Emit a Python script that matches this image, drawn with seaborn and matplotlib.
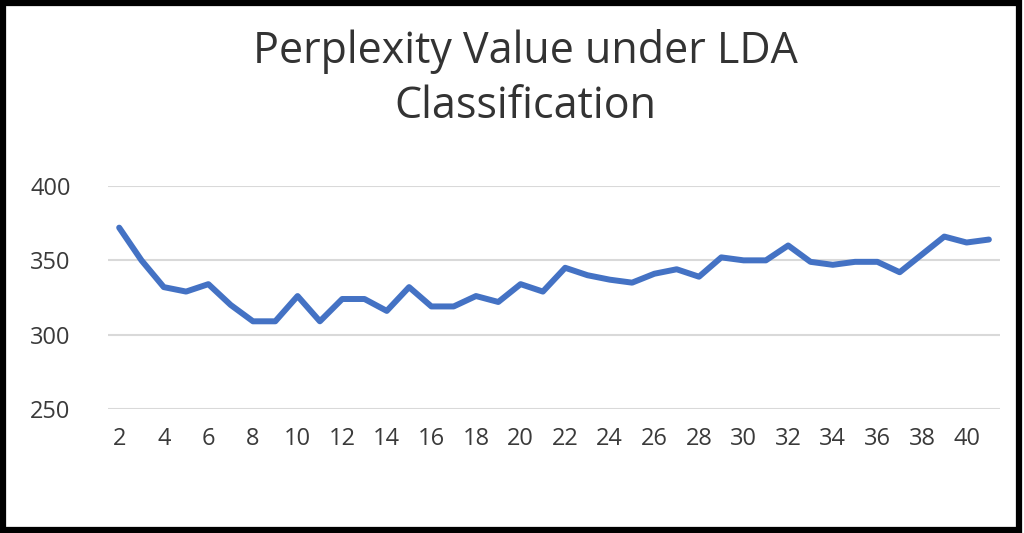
import matplotlib
matplotlib.use("Agg")
import matplotlib.pyplot as plt
import seaborn as sns
import pandas as pd
from matplotlib.patches import Rectangle

topics = list(range(2, 42))
perplexity = [372, 350, 332, 329, 334, 320, 309, 309, 326, 309,
              324, 324, 316, 332, 319, 319, 326, 322, 334, 329,
              345, 340, 337, 335, 341, 344, 339, 352, 350, 350,
              360, 349, 347, 349, 349, 342, 354, 366, 362, 364]
yticks = [250, 300, 350, 400]
xticks = list(range(2, 41, 2))
title = "Perplexity Value under LDA\nClassification"

sns.set_style("white")
plt.rcParams['font.family'] = ['Open Sans', 'DejaVu Sans']

df = pd.DataFrame({"topics": topics, "perplexity": perplexity})

fig = plt.figure(figsize=(10.24, 5.33), dpi=100)
ax = fig.add_axes([0.1055, 0.2326, 0.8711, 0.4184])

sns.lineplot(data=df, x="topics", y="perplexity", ax=ax, color="#4472C4",
             linewidth=4.3, solid_capstyle="round", solid_joinstyle="round")

ax.set_xlim(1.5, 41.5)
ax.set_ylim(250, 400)
ax.set_yticks(yticks)
ax.set_xticks(xticks)
ax.set_xticklabels([str(t) for t in xticks])
ax.yaxis.grid(True, color="#d9d9d9", linewidth=1.5)
ax.xaxis.grid(False)
for s in ax.spines.values():
    s.set_visible(False)
ax.tick_params(axis="both", length=0, labelsize=17, labelcolor="#3a3a3a")
ax.tick_params(axis="y", pad=27)
ax.tick_params(axis="x", pad=13)
ax.set_xlabel("")
ax.set_ylabel("")

fig.text(0.513, 0.852, title, ha="center", va="center", fontsize=31,
         color="#333333", linespacing=1.33)

fig.patches.append(Rectangle((0.003, 0.005), 0.992, 0.99, transform=fig.transFigure,
                             fill=False, edgecolor="black", linewidth=4.5))

fig.savefig("out.png", dpi=100)
